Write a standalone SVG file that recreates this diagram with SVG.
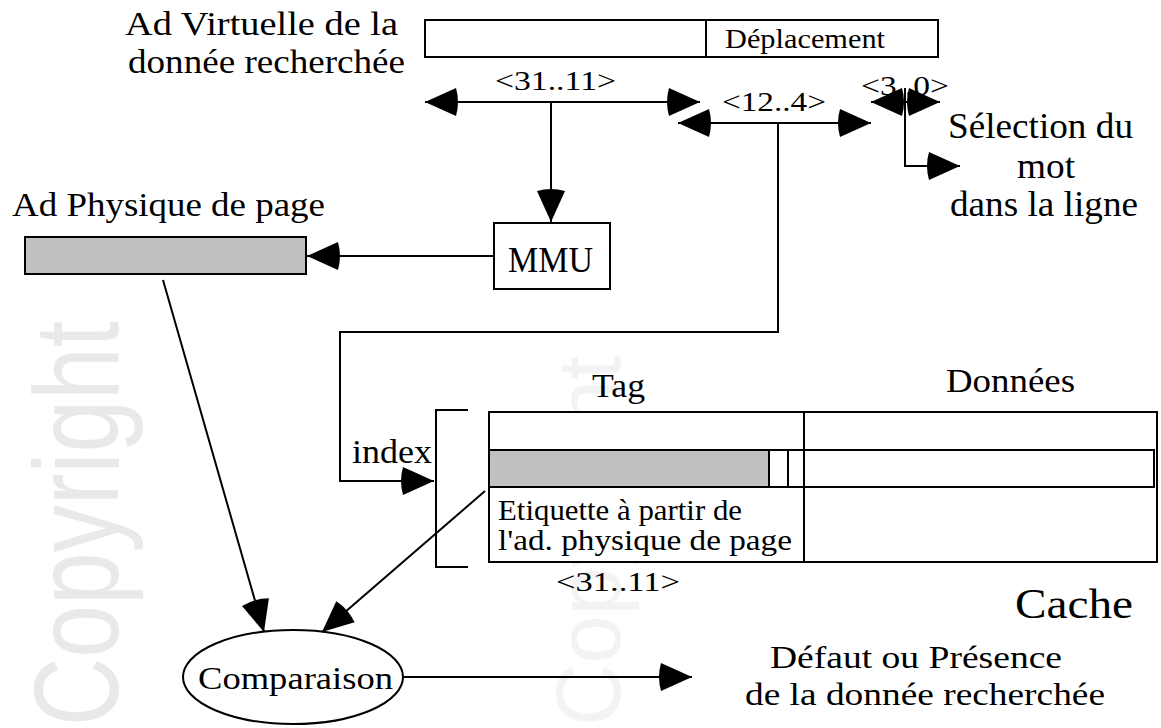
<svg xmlns="http://www.w3.org/2000/svg" width="1161" height="728" viewBox="0 0 1161 728">
<style>
text{font-family:"Liberation Serif","Times New Roman",Times,serif;fill:#000}
.wm{font-family:"Liberation Sans",Arial,sans-serif;fill:#e9e9e9}
.ln{fill:none;stroke:#000;stroke-width:2}
.ar{fill:none;stroke:#000;stroke-width:2;marker-end:url(#ah)}
.dar{fill:none;stroke:#000;stroke-width:2;marker-start:url(#ah);marker-end:url(#ah)}
.box{fill:#fff;stroke:#000;stroke-width:2}
.gray{fill:#c0c0c0;stroke:#000;stroke-width:2}
</style>
<defs>
<marker id="ah" viewBox="-35 -15 36 30" refX="0" refY="0" markerWidth="36" markerHeight="30" markerUnits="userSpaceOnUse" orient="auto-start-reverse">
<path d="M0,0 L-31,-14 Q-35,0 -31,14 Z" fill="#000"/>
</marker>
</defs>
<rect width="1161" height="728" fill="#fff"/>
<g id="watermark">
<text class="wm" transform="translate(118,726) rotate(-90)" font-size="120" textLength="405" lengthAdjust="spacingAndGlyphs">Copyright</text>
<text class="wm" transform="translate(620,726) rotate(-90)" font-size="90" textLength="370" lengthAdjust="spacingAndGlyphs" style="fill:#f3f3f3">Copyright</text>
</g>
<g id="labels" font-family="Liberation Serif, Times New Roman, serif">
<text x="125" y="35" font-size="33" textLength="273" lengthAdjust="spacingAndGlyphs">Ad Virtuelle de la</text>
<text x="128" y="73" font-size="33" textLength="277" lengthAdjust="spacingAndGlyphs">donnée recherchée</text>
<text x="495" y="90" font-size="28" textLength="121" lengthAdjust="spacingAndGlyphs">&lt;31..11&gt;</text>
<text x="722" y="111" font-size="28" textLength="104" lengthAdjust="spacingAndGlyphs">&lt;12..4&gt;</text>
<text x="861" y="95" font-size="28" textLength="88" lengthAdjust="spacingAndGlyphs">&lt;3..0&gt;</text>
<text x="948" y="138" font-size="36" textLength="185" lengthAdjust="spacingAndGlyphs">Sélection du</text>
<text x="1017" y="178" font-size="36" textLength="58" lengthAdjust="spacingAndGlyphs">mot</text>
<text x="950" y="216" font-size="36" textLength="188" lengthAdjust="spacingAndGlyphs">dans la ligne</text>
<text x="12" y="216" font-size="33" textLength="313" lengthAdjust="spacingAndGlyphs">Ad Physique de page</text>
<text x="352" y="463" font-size="33" textLength="80" lengthAdjust="spacingAndGlyphs">index</text>
<text x="592" y="397" font-size="34" textLength="53" lengthAdjust="spacingAndGlyphs">Tag</text>
<text x="946" y="392" font-size="34" textLength="129" lengthAdjust="spacingAndGlyphs">Données</text>
<text x="556" y="591" font-size="28" textLength="124" lengthAdjust="spacingAndGlyphs">&lt;31..11&gt;</text>
<text x="1015" y="618" font-size="43" textLength="118" lengthAdjust="spacingAndGlyphs">Cache</text>
<text x="770" y="668" font-size="32" textLength="292" lengthAdjust="spacingAndGlyphs">Défaut ou Présence</text>
<text x="745" y="705" font-size="32" textLength="360" lengthAdjust="spacingAndGlyphs">de la donnée recherchée</text>
</g>
<g id="adresse-virtuelle">
<rect class="box" x="425" y="20" width="513" height="37"/>
<line class="ln" x1="706" y1="20" x2="706" y2="57"/>
<text x="725" y="48" font-size="28" textLength="160" lengthAdjust="spacingAndGlyphs">Déplacement</text>
</g>
<g id="adresse-physique">
<rect class="gray" x="25" y="237" width="281" height="37"/>
</g>
<g id="mmu">
<rect class="box" x="494" y="223" width="116" height="66"/>
<text x="508" y="272" font-size="35" textLength="85" lengthAdjust="spacingAndGlyphs">MMU</text>
</g>
<g id="cache">
<path class="ln" d="M468,410 H436 V567 H468"/>
<rect class="box" x="489" y="412" width="668" height="150"/>
<rect class="box" x="489" y="450" width="665" height="37"/>
<rect class="gray" x="489" y="450" width="280" height="37"/>
<line class="ln" x1="788" y1="450" x2="788" y2="487"/>
<line class="ln" x1="804" y1="412" x2="804" y2="562"/>
<text x="498" y="520" font-size="30" textLength="244" lengthAdjust="spacingAndGlyphs">Etiquette à partir de</text>
<text x="498" y="550" font-size="30" textLength="294" lengthAdjust="spacingAndGlyphs">l'ad. physique de page</text>
</g>
<g id="comparaison">
<ellipse cx="293" cy="677" rx="110" ry="47" fill="#fff" stroke="#000" stroke-width="2"/>
<text x="198" y="689" font-size="32" textLength="195" lengthAdjust="spacingAndGlyphs">Comparaison</text>
</g>
<g id="connectors">
<line class="dar" x1="425" y1="102" x2="700" y2="102"/>
<line class="dar" x1="678" y1="123" x2="871" y2="123"/>
<line class="dar" x1="871" y1="102" x2="940" y2="102"/>
<line class="ar" x1="551" y1="102" x2="551" y2="222"/>
<path class="ar" d="M778,123 V332 H340 V481 H434"/>
<path class="ar" d="M905,88 V166 H960"/>
<line class="ar" x1="494" y1="256" x2="307" y2="256"/>
<line class="ar" x1="163" y1="280" x2="264" y2="632"/>
<line class="ar" x1="485" y1="491" x2="322" y2="632"/>
<line class="ar" x1="403" y1="677" x2="692" y2="677"/>
</g>
</svg>
